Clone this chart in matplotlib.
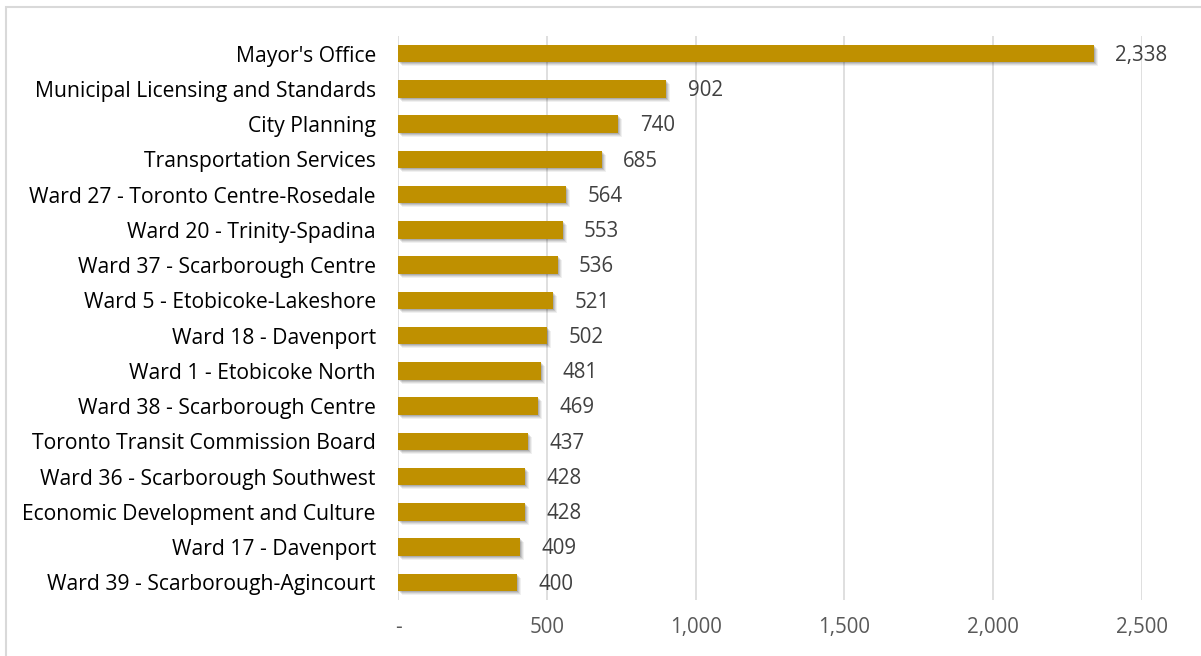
import matplotlib.pyplot as plt
import matplotlib.transforms as mtransforms
from matplotlib.patches import Rectangle
from matplotlib.ticker import FuncFormatter

categories = [
    "Mayor's Office",
    "Municipal Licensing and Standards",
    "City Planning",
    "Transportation Services",
    "Ward 27 - Toronto Centre-Rosedale",
    "Ward 20 - Trinity-Spadina",
    "Ward 37 - Scarborough Centre",
    "Ward 5 - Etobicoke-Lakeshore",
    "Ward 18 - Davenport",
    "Ward 1 - Etobicoke North",
    "Ward 38 - Scarborough Centre",
    "Toronto Transit Commission Board",
    "Ward 36 - Scarborough Southwest",
    "Economic Development and Culture",
    "Ward 17 - Davenport",
    "Ward 39 - Scarborough-Agincourt",
]
values = [2338, 902, 740, 685, 564, 553, 536, 521, 502, 481, 469, 437, 428, 428, 409, 400]
x_ticks = [0, 500, 1000, 1500, 2000, 2500]

plt.rcParams['font.family'] = ['Open Sans', 'DejaVu Sans']

fig = plt.figure(figsize=(12.01, 6.56), dpi=100)
ax = fig.add_axes([398 / 1201, 1 - 600 / 656, (1142 - 398) / 1201, 564 / 656])

# light frame around the chart area
fig.patches.append(Rectangle((6 / 1201, -0.01), 1.2, 1 - 7 / 656 + 0.01,
                             transform=fig.transFigure, fill=False,
                             edgecolor='#d9d9d9', linewidth=1.5))

ypos = list(range(len(categories)))
bar_h = 0.5

# soft drop shadow: a few faint copies nudged down and right
for off, a in [(4, 0.06), (3, 0.08), (2, 0.10), (1, 0.12)]:
    shift = mtransforms.ScaledTranslation(off / 100, -off / 100, fig.dpi_scale_trans)
    ax.barh(ypos, values, height=bar_h, color='black', alpha=a,
            linewidth=0, zorder=2, transform=ax.transData + shift)

ax.barh(ypos, values, height=bar_h, color='#bf9000', linewidth=0, zorder=3)

for y, v in zip(ypos, values):
    ax.text(v + 72, y + 0.05, f"{v:,}", va='center', ha='left',
            fontsize=14.8, color='#404040', zorder=4)

ax.set_xlim(0, 2500)
ax.set_ylim(len(categories) - 0.5, -0.5)
ax.set_yticks(ypos)
ax.set_yticklabels(categories, fontsize=15.2, color='black')
ax.set_xticks(x_ticks)
ax.xaxis.set_major_formatter(FuncFormatter(lambda v, p: '-' if v == 0 else f"{int(v):,}"))
ax.tick_params(axis='x', labelsize=14.8, labelcolor='#595959', length=0, pad=12)
ax.tick_params(axis='y', length=0, pad=16)
ax.grid(axis='x', color='#d9d9d9', linewidth=1.2, zorder=0)
for s in ax.spines.values():
    s.set_visible(False)

fig.savefig('out.png', dpi=100)
